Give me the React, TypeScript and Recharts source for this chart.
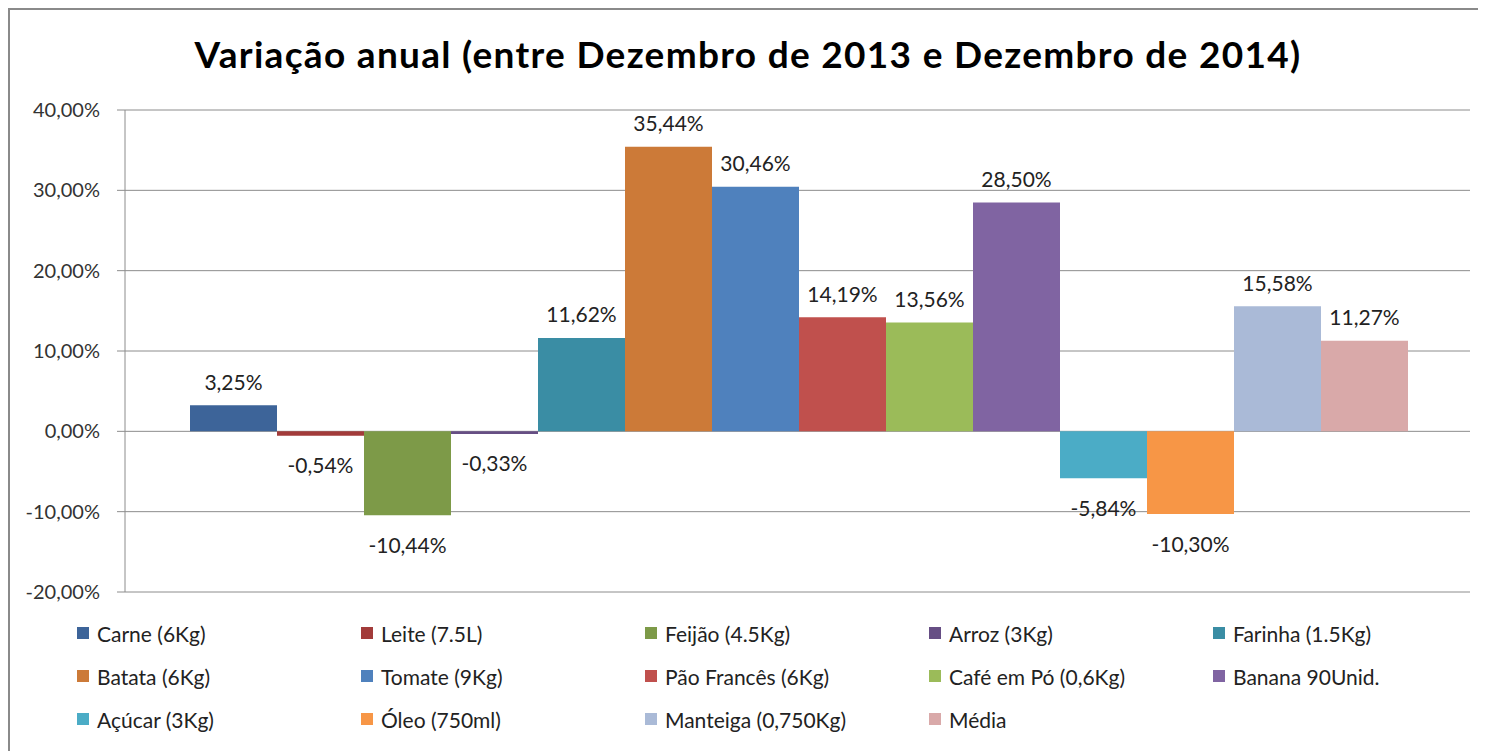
import React from 'react';
import { BarChart, Bar, XAxis, YAxis, CartesianGrid, LabelList } from 'recharts';

const seriesNames = [
  'Carne (6Kg)', 'Leite (7.5L)', 'Feijão (4.5Kg)', 'Arroz (3Kg)', 'Farinha (1.5Kg)',
  'Batata (6Kg)', 'Tomate (9Kg)', 'Pão Francês (6Kg)', 'Café em Pó (0,6Kg)', 'Banana 90Unid.',
  'Açúcar (3Kg)', 'Óleo (750ml)', 'Manteiga (0,750Kg)', 'Média',
];
const seriesValues = [3.25, -0.54, -10.44, -0.33, 11.62, 35.44, 30.46, 14.19, 13.56, 28.5, -5.84, -10.3, 15.58, 11.27];
const seriesColors = [
  '#3D6499', '#A23B3A', '#7D9A48', '#664E84', '#3A8DA4',
  '#CC7A38', '#4F81BD', '#C0504D', '#9BBB59', '#8064A2',
  '#4BACC6', '#F79646', '#AABAD7', '#D9A9A9',
];
const yTicks = [-20, -10, 0, 10, 20, 30, 40];

const fmt = (v: number) => v.toFixed(2).replace('.', ',') + '%';

// one category row, one key per series
const data = [
  seriesNames.reduce((row: any, name, i) => { row[`s${i}`] = seriesValues[i]; return row; }, { name: 'Variação' }),
];

const FONT = 'Lato, "Open Sans", sans-serif';

function ValueLabel(props: any) {
  const { x, y, width, height, value } = props;
  const top = Math.min(y, y + height);
  const bottom = Math.max(y, y + height);
  const cy = value >= 0 ? top - 24 : bottom + 29;
  return (
    <text x={x + width / 2} y={cy} textAnchor="middle" dominantBaseline="central"
      fontSize={21} fill="#222" fontFamily={FONT}>
      {fmt(value)}
    </text>
  );
}

export default function App() {
  return (
    <div style={{ position: 'relative', width: 1476, height: 760, border: '2px solid #8a8a8a', background: '#fff', fontFamily: FONT }}>
      <div style={{ position: 'absolute', top: 21, left: 0, width: 1476, textAlign: 'center', fontSize: 37, letterSpacing: 1.3, fontWeight: 700, color: '#000' }}>
        Variação anual (entre Dezembro de 2013 e Dezembro de 2014)
      </div>
      <div style={{ position: 'absolute', top: 0, left: 0 }}>
        <BarChart width={1476} height={600} data={data}
          margin={{ top: 100, right: 16, left: 0, bottom: 18 }}
          barCategoryGap={65} barGap={0}>
          <CartesianGrid vertical={false} stroke="#8c8c8c" />
          <XAxis dataKey="name" hide />
          <YAxis width={115} domain={[-20, 40]} ticks={yTicks} interval={0}
            tickFormatter={fmt} tickSize={8} tickMargin={17}
            stroke="#8c8c8c" tick={{ fill: '#333', fontSize: 20, fontFamily: FONT }} />
          {seriesNames.map((name, i) => (
            <Bar key={name} dataKey={`s${i}`} name={name} fill={seriesColors[i]} isAnimationActive={false}>
              <LabelList dataKey={`s${i}`} content={ValueLabel} />
            </Bar>
          ))}
        </BarChart>
      </div>
      <div style={{ position: 'absolute', top: 611, left: 67, display: 'grid', gridTemplateColumns: 'repeat(5, 284px)', rowGap: 19 }}>
        {seriesNames.map((name, i) => (
          <div key={name} style={{ display: 'flex', alignItems: 'center', height: 24, fontSize: 21, color: '#222', whiteSpace: 'nowrap' }}>
            <span style={{ width: 12, height: 12, background: seriesColors[i], marginRight: 8, display: 'inline-block', flexShrink: 0 }} />
            {name}
          </div>
        ))}
      </div>
    </div>
  );
}
